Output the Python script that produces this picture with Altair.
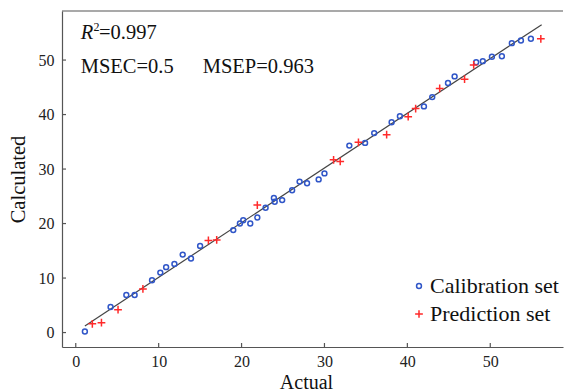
import altair as alt
import pandas as pd

# ---- data ----
cal_actual = [1.1, 4.2, 6.1, 7.1, 9.2, 10.2, 10.9, 11.9, 12.9, 13.9, 15.0, 19.0, 19.8, 20.2,
              21.05, 21.9, 22.9, 23.9, 24.0, 24.9, 26.1, 27.0, 27.9, 29.3, 30.0, 33.0, 34.9,
              36.0, 38.1, 39.1, 42.0, 43.0, 44.9, 45.7, 48.3, 49.1, 50.2, 51.4, 52.6, 53.7, 54.9]
cal_calc = [0.2, 4.7, 6.9, 6.9, 9.6, 11.0, 12.0, 12.6, 14.3, 13.6, 15.9, 18.8, 20.0, 20.6,
            20.0, 21.1, 22.9, 24.7, 24.0, 24.3, 26.1, 27.7, 27.4, 28.1, 29.2, 34.3, 34.8,
            36.6, 38.6, 39.7, 41.5, 43.2, 45.8, 47.0, 49.6, 49.8, 50.6, 50.7, 53.1, 53.6, 53.9]
pred_actual = [2.0, 3.1, 5.1, 8.1, 16.0, 17.0, 21.9, 31.1, 31.9, 34.1, 37.5, 40.1, 41.0,
               43.9, 46.9, 48.0, 56.1]
pred_calc = [1.6, 1.8, 4.2, 8.0, 16.9, 17.0, 23.4, 31.7, 31.4, 34.9, 36.3, 39.6, 41.1,
             44.8, 46.5, 49.1, 53.9]
line_x = [1.1, 56.2]
line_y = [1.2, 56.5]
series_names = ["Calibration set", "Prediction set"]
x_ticks = [0, 10, 20, 30, 40, 50]
y_ticks = [0, 10, 20, 30, 40, 50]
ann_r = ["R"]
ann_sup = ["2"]
ann_r_val = ["=0.997"]
ann_line2 = ["MSEC=0.5", "MSEP=0.963"]

FONT = "Liberation Serif"
W, H = 501, 336
XDOM = [-1.66, -1.66 + W / 8.29]
YDOM = [-2.65, -2.65 + H / 5.45]

rows = ([{"series": series_names[0], "actual": a, "calc": c} for a, c in zip(cal_actual, cal_calc)] +
        [{"series": series_names[1], "actual": a, "calc": c} for a, c in zip(pred_actual, pred_calc)])
df = pd.DataFrame(rows)

xs = alt.Scale(domain=XDOM, nice=False, zero=False)
ys = alt.Scale(domain=YDOM, nice=False, zero=False)
xaxis = alt.Axis(values=x_ticks, ticks=False, tickSize=0, labelPadding=6, grid=False,
                 domainColor="#555", domainWidth=1.2, titlePadding=3, titleX=244,
                 titleFontSize=20)
yaxis = alt.Axis(values=y_ticks, ticks=False, tickSize=0, labelPadding=8, grid=False,
                 domainColor="#555", domainWidth=1.2, titlePadding=10)

X = alt.X("actual:Q", scale=xs, axis=xaxis, title="Actual")
Y = alt.Y("calc:Q", scale=ys, axis=yaxis, title="Calculated")

line = alt.Chart(pd.DataFrame({"actual": line_x, "calc": line_y})).mark_line(
    color="#444", strokeWidth=1.2).encode(x=X, y=Y)

points = alt.Chart(df).mark_point(filled=False, strokeWidth=1.5, opacity=1).encode(
    x=X, y=Y,
    color=alt.Color("series:N", scale=alt.Scale(domain=series_names, range=["#3056c8", "#ff2a2a"]),
                    legend=alt.Legend(title=None, orient="none", legendX=346, legendY=264,
                                      labelFont=FONT, labelFontSize=22, labelColor="#111",
                                      rowPadding=6, symbolStrokeWidth=1.5, labelOffset=0)),
    shape=alt.Shape("series:N", scale=alt.Scale(domain=series_names,
                                                range=["circle", "M-1,0L1,0M0,-1L0,1"]),
                    legend=alt.Legend(title=None)),
    size=alt.Size("series:N", scale=alt.Scale(domain=series_names, range=[24, 60]),
                  legend=alt.Legend(title=None)),
)

xt = alt.Chart(pd.DataFrame({"actual": x_ticks})).mark_rule(color="#555", strokeWidth=1.2).encode(
    x=alt.X("actual:Q", scale=xs, axis=xaxis, title="Actual"), y=alt.value(H), y2=alt.value(H - 4))
yt = alt.Chart(pd.DataFrame({"calc": y_ticks})).mark_rule(color="#555", strokeWidth=1.2).encode(
    y=alt.Y("calc:Q", scale=ys, axis=yaxis, title="Calculated"), x=alt.value(0), x2=alt.value(4))
top = alt.Chart(pd.DataFrame({"k": [0]})).mark_rule(color="#555", strokeWidth=1.2).encode(
    y=alt.value(0), x=alt.value(0), x2=alt.value(W))

def txt(vals, x, y, size=20.5, style="normal"):
    return alt.Chart(pd.DataFrame({"t": vals})).mark_text(
        align="left", baseline="alphabetic", font=FONT, fontSize=size, fontStyle=style,
        color="#111").encode(text="t:N", x=alt.value(x), y=alt.value(y))

ann = (txt(ann_r, 18.7, 28.3, style="italic") + txt(ann_sup, 31.5, 20, size=12) +
       txt(ann_r_val, 37, 28.3) + txt(ann_line2[:1], 18.7, 62.3) + txt(ann_line2[1:], 140.7, 62.3))

chart = alt.layer(top, xt, yt, line, points, ann).properties(
    width=W, height=H,
    autosize=alt.AutoSizeParams(type="none"),
    padding={"left": 62, "top": 11, "right": 1, "bottom": 45},
).configure_view(stroke=None).configure_axis(
    labelFont=FONT, labelFontSize=16, labelColor="#222",
    titleFont=FONT, titleFontSize=20.5, titleFontWeight="normal", titleColor="#111",
)

chart.save("out.html", embed_options={"renderer": "svg", "actions": False})
